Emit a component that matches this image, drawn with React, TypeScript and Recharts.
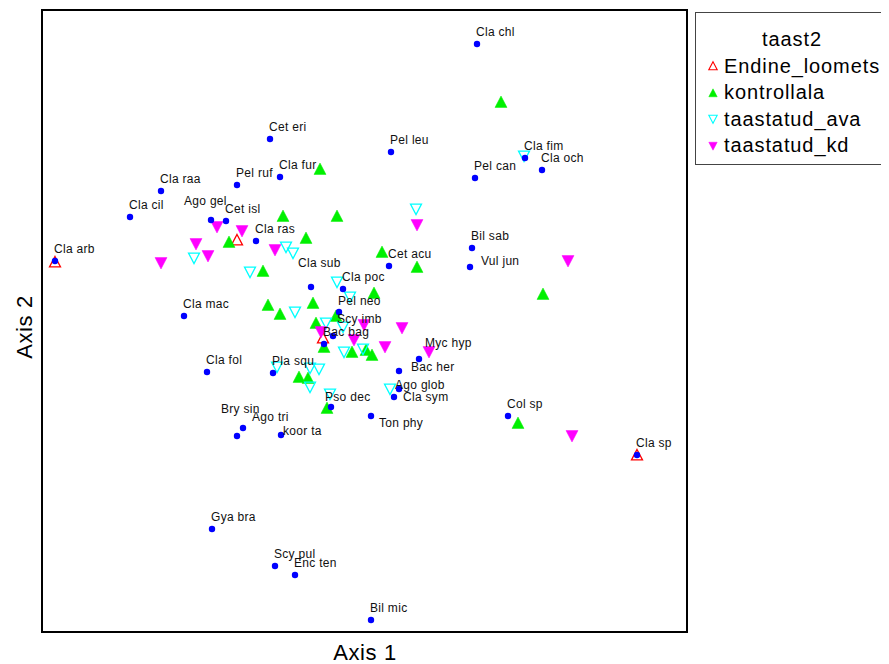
import React from 'react';
import { ScatterChart, Scatter, XAxis, YAxis, ReferenceArea } from 'recharts';

type Pt = { x: number; y: number };
type Species = Pt & { name: string };

// Species scores on the two ordination axes
const speciesScores: Species[] = [
  { name: 'Cla chl', x: 1.15, y: 2.77 },
  { name: 'Cet eri', x: -0.92, y: 1.82 },
  { name: 'Pel leu', x: 0.29, y: 1.69 },
  { name: 'Cla fur', x: -0.82, y: 1.44 },
  { name: 'Pel ruf', x: -1.25, y: 1.36 },
  { name: 'Cla raa', x: -2.01, y: 1.3 },
  { name: 'Pel can', x: 1.13, y: 1.43 },
  { name: 'Cla fim', x: 1.63, y: 1.63 },
  { name: 'Cla och', x: 1.8, y: 1.51 },
  { name: 'Cla cil', x: -2.32, y: 1.04 },
  { name: 'Ago gel', x: -1.51, y: 1.01 },
  { name: 'Cet isl', x: -1.36, y: 1.0 },
  { name: 'Cla ras', x: -1.06, y: 0.8 },
  { name: 'Cla arb', x: -3.07, y: 0.6 },
  { name: 'Cla sub', x: -0.51, y: 0.34 },
  { name: 'Cla poc', x: -0.19, y: 0.32 },
  { name: 'Cla mac', x: -1.78, y: 0.05 },
  { name: 'Cla fol', x: -1.55, y: -0.51 },
  { name: 'Pla squ', x: -0.89, y: -0.52 },
  { name: 'Bry sin', x: -1.25, y: -1.15 },
  { name: 'Ago tri', x: -1.19, y: -1.07 },
  { name: 'koor ta', x: -0.81, y: -1.14 },
  { name: 'Ton phy', x: 0.09, y: -0.95 },
  { name: 'Gya bra', x: -1.5, y: -2.08 },
  { name: 'Scy pul', x: -0.87, y: -2.45 },
  { name: 'Enc ten', x: -0.67, y: -2.54 },
  { name: 'Bil mic', x: 0.09, y: -2.99 },
  { name: 'Pso dec', x: -0.31, y: -0.86 },
  { name: 'Ago glob', x: 0.37, y: -0.68 },
  { name: 'Cla sym', x: 0.32, y: -0.76 },
  { name: 'Bac her', x: 0.37, y: -0.5 },
  { name: 'Myc hyp', x: 0.57, y: -0.38 },
  { name: 'Col sp', x: 1.46, y: -0.95 },
  { name: 'Cla sp', x: 2.75, y: -1.34 },
  { name: 'Bil sab', x: 1.1, y: 0.73 },
  { name: 'Vul jun', x: 1.08, y: 0.54 },
  { name: 'Cet acu', x: 0.27, y: 0.55 },
  { name: 'Pel neo', x: -0.23, y: 0.09 },
  { name: 'Scy imb', x: -0.29, y: -0.15 },
  { name: 'Bac bag', x: -0.38, y: -0.23 },
];

// Site scores, one array per treatment group
const endineLoomets: Pt[] = [
  { x: -3.07, y: 0.59 },
  { x: -1.25, y: 0.81 },
  { x: -0.39, y: -0.17 },
  { x: 2.75, y: -1.34 },
];

const kontrollala: Pt[] = [
  { x: 1.39, y: 2.19 },
  { x: -0.42, y: 1.52 },
  { x: -0.79, y: 1.05 },
  { x: -0.25, y: 1.05 },
  { x: -1.33, y: 0.79 },
  { x: -0.56, y: 0.83 },
  { x: -0.99, y: 0.5 },
  { x: 0.2, y: 0.69 },
  { x: 0.55, y: 0.54 },
  { x: 0.12, y: 0.28 },
  { x: 1.81, y: 0.27 },
  { x: -0.94, y: 0.16 },
  { x: -0.82, y: 0.07 },
  { x: -0.49, y: 0.18 },
  { x: -0.46, y: -0.02 },
  { x: -0.26, y: 0.05 },
  { x: -0.38, y: -0.26 },
  { x: -0.1, y: -0.31 },
  { x: 0.04, y: -0.29 },
  { x: 0.1, y: -0.34 },
  { x: -0.63, y: -0.56 },
  { x: -0.54, y: -0.57 },
  { x: -0.35, y: -0.87 },
  { x: 1.56, y: -1.02 },
];

const taastatudAva: Pt[] = [
  { x: 1.62, y: 1.65 },
  { x: 0.54, y: 1.12 },
  { x: -0.76, y: 0.74 },
  { x: -0.69, y: 0.68 },
  { x: -1.68, y: 0.63 },
  { x: -1.12, y: 0.49 },
  { x: -0.25, y: 0.39 },
  { x: -0.12, y: 0.24 },
  { x: -0.67, y: 0.09 },
  { x: -0.36, y: -0.02 },
  { x: -0.19, y: -0.06 },
  { x: -0.18, y: -0.31 },
  { x: 0.01, y: -0.28 },
  { x: -0.85, y: -0.46 },
  { x: -0.52, y: -0.47 },
  { x: -0.43, y: -0.48 },
  { x: -0.52, y: -0.66 },
  { x: -0.32, y: -0.73 },
  { x: 0.28, y: -0.68 },
];

const taastatudKd: Pt[] = [
  { x: 0.55, y: 0.96 },
  { x: -1.45, y: 0.94 },
  { x: -1.2, y: 0.9 },
  { x: -1.66, y: 0.77 },
  { x: -1.54, y: 0.65 },
  { x: -2.01, y: 0.58 },
  { x: -0.87, y: 0.71 },
  { x: 2.06, y: 0.6 },
  { x: 0.02, y: -0.04 },
  { x: 0.4, y: -0.07 },
  { x: -0.41, y: -0.11 },
  { x: -0.08, y: -0.19 },
  { x: 0.23, y: -0.26 },
  { x: 0.67, y: -0.31 },
  { x: 2.1, y: -1.15 },
];

const legendTitle = 'taast2';
const groupNames = ['Endine_loomets', 'kontrollala', 'taastatud_ava', 'taastatud_kd'];
const axisTitles = ['Axis 1', 'Axis 2'];

const X_DOMAIN: [number, number] = [-3.2, 3.25];
const Y_DOMAIN: [number, number] = [-3.11, 3.11];

const FONT = '"Liberation Sans", Arial, sans-serif';

// Hand-placed label offsets (px) where the default spot would collide
const DEFAULT_NUDGE: [number, number] = [-1, -12];
const labelNudge: Record<string, [number, number]> = {
  'Ago gel': [-27, -19],
  'Cla sub': [-13, -24],
  'Bry sin': [-16, -27],
  'Ago tri': [9, -11],
  'koor ta': [2, -4],
  'Ton phy': [8, 7],
  'Pso dec': [-6, -10],
  'Ago glob': [-4, -4],
  'Cla sym': [9, 0],
  'Bac her': [12, -4],
  'Myc hyp': [6, -16],
  'Vul jun': [11, -6],
  'Scy imb': [4, -17],
  'Pel neo': [-1, -11],
};

type Kind = 'up' | 'down';

const trianglePath = (cx: number, cy: number, kind: Kind, s: number) => {
  const h = s * 0.9;
  return kind === 'up'
    ? `M${cx},${cy - s} L${cx + s},${cy + h} L${cx - s},${cy + h} Z`
    : `M${cx - s},${cy - h} L${cx + s},${cy - h} L${cx},${cy + s} Z`;
};

const markerStyles: { kind: Kind; color: string; open: boolean }[] = [
  { kind: 'up', color: '#FF0000', open: true },
  { kind: 'up', color: '#00F000', open: false },
  { kind: 'down', color: '#00FFFF', open: true },
  { kind: 'down', color: '#FF00FF', open: false },
];

const siteShape = (idx: number) => (props: any) => {
  const { cx, cy } = props;
  if (cx == null || cy == null) return null;
  const st = markerStyles[idx];
  return (
    <path
      d={trianglePath(cx, cy, st.kind, st.open ? 5.5 : 6)}
      fill={st.open ? 'none' : st.color}
      stroke={st.color}
      strokeWidth={st.open ? 1.3 : 0.5}
    />
  );
};

const speciesShape = (props: any) => {
  const { cx, cy, payload } = props;
  if (cx == null || cy == null) return null;
  const [dx, dy] = labelNudge[payload.name] ?? DEFAULT_NUDGE;
  return (
    <g>
      <circle cx={cx} cy={cy} r={3.2} fill="#0000FF" />
      <text
        x={cx + dx}
        y={cy + dy}
        fontSize={12}
        letterSpacing={0.3}
        fontFamily={FONT}
        fill="#111"
        dominantBaseline="central"
      >
        {payload.name}
      </text>
    </g>
  );
};

const LegendSymbol = ({ idx }: { idx: number }) => {
  const st = markerStyles[idx];
  return (
    <svg width={12} height={12} style={{ display: 'block' }}>
      <path
        d={trianglePath(6, 6, st.kind, 4.2)}
        fill={st.open ? 'none' : st.color}
        stroke={st.color}
        strokeWidth={st.open ? 1.1 : 0.5}
      />
    </svg>
  );
};

const seriesData = [endineLoomets, kontrollala, taastatudAva, taastatudKd];

export default function App() {
  return (
    <div style={{ position: 'relative', width: 881, height: 656, fontFamily: FONT }}>
      <ScatterChart width={881} height={656} margin={{ top: 2, right: 202, bottom: 32, left: 34 }}>
        <XAxis type="number" dataKey="x" domain={X_DOMAIN} allowDataOverflow hide />
        <YAxis type="number" dataKey="y" domain={Y_DOMAIN} allowDataOverflow hide />
        {seriesData.map((d, i) => (
          <Scatter
            key={groupNames[i]}
            name={groupNames[i]}
            data={d}
            shape={siteShape(i)}
            isAnimationActive={false}
          />
        ))}
        <Scatter name="species" data={speciesScores} shape={speciesShape} isAnimationActive={false} />
        <ReferenceArea
          x1={X_DOMAIN[0]}
          x2={X_DOMAIN[1]}
          y1={Y_DOMAIN[0]}
          y2={Y_DOMAIN[1]}
          fill="none"
          stroke="#000"
          strokeWidth={2}
          ifOverflow="visible"
        />
      </ScatterChart>

      <div
        style={{
          position: 'absolute',
          left: 357,
          top: 645,
          transform: 'translate(-50%, -50%)',
          fontSize: 22,
          lineHeight: '22px',
          letterSpacing: 0.6,
          whiteSpace: 'nowrap',
          color: '#000',
        }}
      >
        {axisTitles[0]}
      </div>
      <div
        style={{
          position: 'absolute',
          left: 17,
          top: 319,
          transform: 'translate(-50%, -50%) rotate(-90deg)',
          fontSize: 22,
          lineHeight: '22px',
          letterSpacing: 0.6,
          whiteSpace: 'nowrap',
          color: '#000',
        }}
      >
        {axisTitles[1]}
      </div>

      <div
        style={{
          position: 'absolute',
          left: 687,
          top: 4,
          width: 194,
          height: 153,
          boxSizing: 'border-box',
          border: '1px solid #444',
          paddingTop: 12,
          fontSize: 20,
          letterSpacing: 0.9,
          color: '#000',
        }}
      >
        <div style={{ height: 28, lineHeight: '28px', textAlign: 'center' }}>{legendTitle}</div>
        {groupNames.map((g, i) => (
          <div key={g} style={{ height: 26.5, display: 'flex', alignItems: 'center' }}>
            <div style={{ width: 11, marginLeft: 11, marginRight: 6 }}>
              <LegendSymbol idx={i} />
            </div>
            <span style={{ whiteSpace: 'nowrap' }}>{g}</span>
          </div>
        ))}
      </div>
    </div>
  );
}
